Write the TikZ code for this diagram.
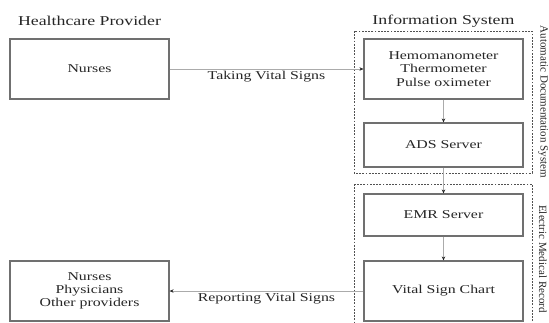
\documentclass[tikz,border=0pt]{standalone}
\usepackage{fontspec}
\setmainfont{Liberation Serif}[FakeStretch=1.32]
\newfontfamily\sidefont{Liberation Serif}
\usepackage{xcolor}
\usepackage{tikz}
\usetikzlibrary{arrows.meta,positioning}

\definecolor{inkc}{HTML}{262626}
\definecolor{edgec}{HTML}{707070}
\definecolor{linec}{HTML}{ABABAB}

\begin{document}
\begin{tikzpicture}[
        x=1pt, y=-1pt,
        >=Stealth,
        box/.style={
            draw=edgec,
            line width=1.2pt,
            align=center,
            text=inkc,
            font=\fontsize{12}{13.3}\selectfont,
            inner sep=0pt,
            minimum width=159pt,
            minimum height=60pt
        },
        head/.style={text=inkc, font=\fontsize{13.5}{15}\selectfont, inner sep=0pt},
        group/.style={draw=inkc!80, dash pattern=on 1.8pt off 1.4pt, line width=1pt},
        side/.style={text=inkc, font=\sidefont\fontsize{11}{12}\selectfont, rotate=-90, inner sep=0pt},
        flow/.style={-{Stealth[length=4pt,width=3.5pt,color=inkc]}, draw=linec, line width=0.9pt},
        tag/.style={text=inkc, font=\fontsize{12}{13}\selectfont, inner sep=1.5pt}
    ]
        \useasboundingbox (0,0) rectangle (549,322);

        % column headings
        \node[head] (hp) at (89.5,21) {Healthcare Provider};
        \node[head] (is) at (443.5,21) {Information System};

        % dotted groups
        \draw[group] (354,31) rectangle (532,173);
        \draw[group] (354,184) rectangle (532,330);
        \node[side] (ads) at (543,102) {Automatic Documentation System};
        \node[side] (emr) at (543,259) {Electric Medical Record};

        % boxes
        \node[box] (nurse) at (89.5,69) {Nurses};
        \node[box] (dev) at (443.5,69) {Hemomanometer\\Thermometer\\Pulse oximeter};
        \node[box, minimum height=44pt] (adsv) at (443.5,145) {ADS Server};
        \node[box, minimum height=42pt] (emrv) at (443.5,215) {EMR Server};
        \node[box] (chart) at (443.5,291) {Vital Sign Chart};
        \node[box] (staff) at (89.5,291) {Nurses\\Physicians\\Other providers};

        \draw[flow] (nurse.east) -- (dev.west)
            node[tag, midway, below] {Taking Vital Signs};
        \draw[flow] (dev.south) -- (adsv.north);
        \draw[flow] (adsv.south) -- (emrv.north);
        \draw[flow] (emrv.south) -- (chart.north);
        \draw[flow] (chart.west) -- (staff.east)
            node[tag, midway, below] {Reporting Vital Signs};
    \end{tikzpicture}
\end{document}
